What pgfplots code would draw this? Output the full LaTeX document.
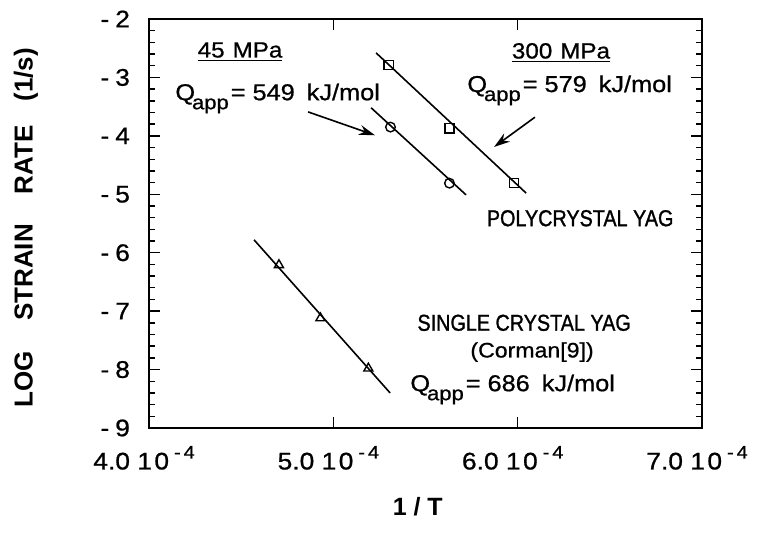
\documentclass[border=0pt]{standalone}
\usepackage{fontspec}
\setmainfont{Liberation Sans}
\newfontfamily\widefont{Liberation Sans}[FakeStretch=1.1, FakeBold=0.8]
\newfontfamily\narrowfont{Liberation Sans}[FakeStretch=0.86, FakeBold=1.2]
\usepackage{pgfplots}
\pgfplotsset{compat=1.18}
\usetikzlibrary{arrows.meta}

\newcommand{\xtl}[1]{#1 1\hspace{1.2pt}0\hspace{2.5pt}\raisebox{5.5pt}{\fontsize{9}{9}\selectfont -\hspace{1.5pt}4}}
\newcommand{\Qapp}{Q\hspace{-1.5pt}\raisebox{-4.5pt}{\fontsize{10}{10}\selectfont app}\hspace{1pt}}

\begin{document}
\begin{tikzpicture}
\useasboundingbox (-74.5pt,-52.5pt) rectangle (304.5pt,214pt);
\begin{axis}[
    scale only axis, width=276.5pt, height=204.5pt,
    xmin=4e-4, xmax=7e-4, ymin=-9, ymax=-2,
    scaled x ticks=false,
    xtick={4e-4,5e-4,6e-4,7e-4},
    xticklabels={\xtl{4.0},\xtl{5.0},\xtl{6.0},\xtl{7.0}},
    ytick={-9,-8,-7,-6,-5,-4,-3,-2},
    yticklabels={-\hspace{3pt}9,-\hspace{3pt}8,-\hspace{3pt}7,-\hspace{3pt}6,-\hspace{3pt}5,-\hspace{3pt}4,-\hspace{3pt}3,-\hspace{3pt}2},
    minor y tick num=4,
    xtick pos=both, ytick pos=both,
    tick align=inside,
    major tick length=5.5pt, minor tick length=3pt,
    tick style={black, line width=0.7pt},
    axis line style={line width=0.9pt},
    ticklabel style={font=\widefont\fontsize{12}{14}\selectfont},
    xticklabel style={yshift=-5.5pt, xshift=-2.5pt},
    yticklabel style={xshift=-6pt},
    xlabel={1 / T},
    xlabel style={font=\bfseries\fontsize{12.5}{14}\selectfont, at={(axis description cs:0.486,0)}, anchor=center, yshift=-39.5pt},
    ylabel={LOG\hspace{15pt}STRAIN\hspace{15pt}RATE\hspace{12pt}(1/s)},
    ylabel style={font=\bfseries\fontsize{13}{15}\selectfont, at={(axis description cs:-0.2224,0.49)}, anchor=center},
]
% 300 MPa, polycrystal
\addplot[black, line width=0.8pt] coordinates {(5.232e-4,-2.58) (6.046e-4,-4.98)};
\addplot[only marks, mark=square, mark size=2.3pt, black, mark options={line width=0.7pt}]
    coordinates {(5.30e-4,-2.79) (5.63e-4,-3.87) (5.98e-4,-4.81)};
% 45 MPa, polycrystal
\addplot[black, line width=0.8pt] coordinates {(5.205e-4,-3.52) (5.72e-4,-5.01)};
\addplot[only marks, mark=o, mark size=2.4pt, black, mark options={line width=0.7pt}]
    coordinates {(5.31e-4,-3.85) (5.63e-4,-4.81)};
% single crystal (Corman)
\addplot[black, line width=0.8pt] coordinates {(4.57e-4,-5.78) (5.308e-4,-8.40)};
\addplot[only marks, mark=triangle, mark size=2.6pt, black, mark options={line width=0.7pt}]
    coordinates {(4.705e-4,-6.21) (4.93e-4,-7.12) (5.19e-4,-7.98)};

% annotations
\node[font=\widefont\fontsize{11}{13}\selectfont] at (axis cs:4.494e-4,-2.565) {\underline{45\hspace{4pt}MPa}};
\node[anchor=base west, font=\widefont\fontsize{11.5}{13}\selectfont, inner sep=0pt] at (axis cs:4.141e-4,-3.39) {\Qapp= 549\hspace{6pt}kJ/mol};
\draw[-{Stealth[length=8pt,width=5pt]}, line width=0.8pt] (axis cs:4.863e-4,-3.59) -- (axis cs:5.226e-4,-3.99);

\node[font=\widefont\fontsize{11}{13}\selectfont] at (axis cs:6.235e-4,-2.58) {\underline{300\hspace{4pt}MPa}};
\node[anchor=base west, font=\widefont\fontsize{11.5}{13}\selectfont, inner sep=0pt] at (axis cs:5.725e-4,-3.25) {\Qapp= 579\hspace{6pt}kJ/mol};
\draw[-{Stealth[length=8pt,width=5pt]}, line width=0.8pt] (axis cs:6.094e-4,-3.68) -- (axis cs:5.872e-4,-4.19);

\node[font=\narrowfont\fontsize{11.5}{13}\selectfont] at (axis cs:6.339e-4,-5.41) {POLYCRYSTAL YAG};
\node[font=\narrowfont\fontsize{11.5}{13}\selectfont] at (axis cs:6.035e-4,-7.2) {SINGLE CRYSTAL YAG};
\node[font=\widefont\fontsize{10.5}{13}\selectfont] at (axis cs:6.078e-4,-7.70) {(Corman[9])};
\node[anchor=base west, font=\widefont\fontsize{11.5}{13}\selectfont, inner sep=0pt] at (axis cs:5.416e-4,-8.37) {\Qapp= 686\hspace{6pt}kJ/mol};
\end{axis}
\end{tikzpicture}
\end{document}
